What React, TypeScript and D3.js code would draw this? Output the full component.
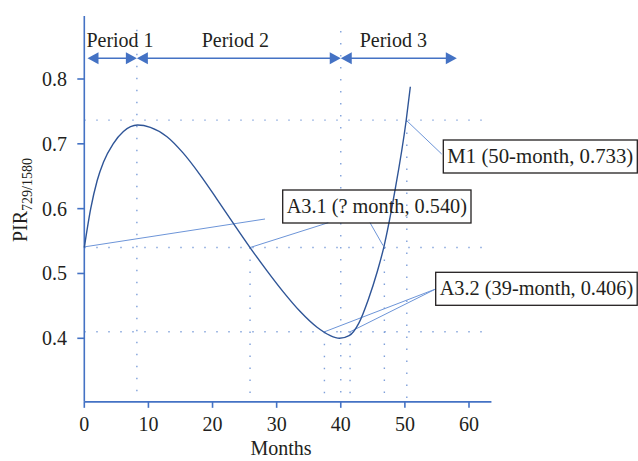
import React, { useEffect, useRef } from "react"
import * as d3 from "d3"

// curve: month, PIR value
const months = [0, 1, 2, 3, 4.5, 6.1, 8.3, 10.3, 12.9, 15.4, 18, 20.6, 23.2, 25.85, 28.5, 31, 33.6, 36.3, 38.3, 39.8, 41.3, 42.8, 44.3, 45.7, 46.7, 48.4, 50.2, 50.85]
const pir = [0.54, 0.6, 0.643, 0.672, 0.7, 0.719, 0.729, 0.7255, 0.711, 0.686, 0.653, 0.616, 0.578, 0.54, 0.504, 0.472, 0.442, 0.417, 0.4045, 0.4, 0.404, 0.423, 0.46, 0.503, 0.54, 0.625, 0.736, 0.788]

const xTicks = [0, 10, 20, 30, 40, 50, 60]
const yTicks = [0.4, 0.5, 0.6, 0.7, 0.8]

const periodNames = ["Period 1", "Period 2", "Period 3"]
const periodStart = [0.5, 8.2, 40]
const periodEnd = [8.2, 40, 58.1]

// dotted guide lines
const hGuides = [0.7365, 0.54, 0.41]
const vGuideAt = [8.2, 40, 50.3, 46.8, 25.85, 37.45, 41.45]
const vGuideTop = [0.876, 0.874, 0.736, 0.54, 0.54, 0.41, 0.41]

const noteText = ["M1 (50-month, 0.733)", "A3.1 (? month, 0.540)", "A3.2 (39-month, 0.406)"]
// leader targets on the chart, per note
const noteTargets = [
  [[50.2, 0.7365]],
  [[0, 0.541], [25.85, 0.54], [46.6, 0.543]],
  [[37.45, 0.41], [41.45, 0.41]],
]

const W = 638
const H = 461
const FONT = "'Liberation Serif', 'DejaVu Serif', serif"
const AXIS = "#4472c4"

export default function App() {
  const ref = useRef<SVGSVGElement>(null)

  useEffect(() => {
    const svg = d3.select(ref.current)
    svg.selectAll("*").remove()

    const x = d3.scaleLinear().domain([0, 60]).range([84.3, 469])
    const y = d3.scaleLinear().domain([0.4, 0.8]).range([338.3, 79])
    const yBottom = 0.302
    const xRight = 63.5

    // guides
    const g = svg.append("g").attr("stroke", "#7fa0da").attr("stroke-width", 1.4)
      .attr("stroke-dasharray", "1.4,10.6")
    hGuides.forEach(v => {
      g.append("line").attr("x1", x(0)).attr("x2", x(62)).attr("y1", y(v)).attr("y2", y(v))
    })
    vGuideAt.forEach((m, i) => {
      g.append("line").attr("x1", x(m)).attr("x2", x(m)).attr("y1", y(vGuideTop[i])).attr("y2", y(yBottom))
    })

    // axes
    svg.append("line").attr("x1", x(0)).attr("x2", x(0)).attr("y1", y(0.897)).attr("y2", y(yBottom))
      .attr("stroke", AXIS).attr("stroke-width", 1.6)
    svg.append("line").attr("x1", x(0)).attr("x2", x(xRight)).attr("y1", y(yBottom)).attr("y2", y(yBottom))
      .attr("stroke", AXIS).attr("stroke-width", 1.6)

    svg.append("g").selectAll("line").data(xTicks).enter().append("line")
      .attr("x1", d => x(d)).attr("x2", d => x(d))
      .attr("y1", y(yBottom)).attr("y2", y(yBottom) + 6)
      .attr("stroke", AXIS).attr("stroke-width", 1.6)
    svg.append("g").selectAll("text").data(xTicks).enter().append("text")
      .attr("x", d => x(d)).attr("y", 431)
      .attr("text-anchor", "middle").attr("font-family", FONT).attr("font-size", 20).attr("fill", "#231f20")
      .text(d => d)

    svg.append("g").selectAll("line").data(yTicks).enter().append("line")
      .attr("x1", x(0) - 7).attr("x2", x(0))
      .attr("y1", d => y(d)).attr("y2", d => y(d))
      .attr("stroke", AXIS).attr("stroke-width", 1.6)
    svg.append("g").selectAll("text").data(yTicks).enter().append("text")
      .attr("x", 67).attr("y", d => y(d) + 7)
      .attr("text-anchor", "end").attr("font-family", FONT).attr("font-size", 20).attr("fill", "#231f20")
      .text(d => d.toFixed(1))

    svg.append("text").attr("x", 281).attr("y", 455).attr("text-anchor", "middle")
      .attr("font-family", FONT).attr("font-size", 20).attr("fill", "#231f20").text("Months")

    const yl = svg.append("text").attr("transform", "translate(27,200) rotate(-90)")
      .attr("text-anchor", "middle").attr("font-family", FONT).attr("font-size", 20).attr("fill", "#231f20")
    yl.append("tspan").text("PIR")
    yl.append("tspan").attr("font-size", 14).attr("dy", 5).text("729/1580")

    // leaders, drawn under the curve
    const boxes = [
      { x: 443.3, y: 140, w: 194 },
      { x: 282.7, y: 190, w: 188.3 },
      { x: 435.7, y: 272.3, w: 201.5 },
    ]
    const anchors = [
      [[441.7, 154]],
      [[265, 219], [328.3, 222.7], [370, 222.7]],
      [[435.7, 289], [435.7, 289]],
    ]
    noteTargets.forEach((ts, i) => {
      ts.forEach((t, j) => {
        svg.append("line")
          .attr("x1", x(t[0])).attr("y1", y(t[1]))
          .attr("x2", anchors[i][j][0]).attr("y2", anchors[i][j][1])
          .attr("stroke", "#6d95d8").attr("stroke-width", 1)
      })
    })

    // curve
    const line = d3.line<number>()
      .x((d, i) => x(months[i]))
      .y(d => y(d))
      .curve(d3.curveMonotoneX)
    svg.append("path").attr("d", line(pir)).attr("fill", "none")
      .attr("stroke", "#2f5597").attr("stroke-width", 1.4)

    // note boxes
    boxes.forEach((b, i) => {
      svg.append("rect").attr("x", b.x).attr("y", b.y).attr("width", b.w).attr("height", 33)
        .attr("fill", "none").attr("stroke", "#231f20").attr("stroke-width", 1.3)
      svg.append("text").attr("x", b.x + 4).attr("y", b.y + 23)
        .attr("font-family", FONT).attr("font-size", 20).attr("fill", "#231f20")
        .attr("textLength", b.w - 8).attr("lengthAdjust", "spacingAndGlyphs")
        .text(noteText[i])
    })

    // period arrows
    const ay = 58.3
    const head = (tip: number, dir: number) => {
      const p = d3.path()
      p.moveTo(tip, ay)
      p.lineTo(tip - dir * 11, ay - 6)
      p.lineTo(tip - dir * 11, ay + 6)
      p.closePath()
      svg.append("path").attr("d", p.toString()).attr("fill", AXIS)
    }
    periodNames.forEach((name, i) => {
      const x0 = x(periodStart[i])
      const x1 = x(periodEnd[i])
      svg.append("line").attr("x1", x0 + 4).attr("x2", x1 - 4).attr("y1", ay).attr("y2", ay)
        .attr("stroke", AXIS).attr("stroke-width", 1.6)
      head(x0, -1)
      head(x1, 1)
    })
    const labelX = [120, 235.3, 393.3]
    svg.append("g").selectAll("text").data(periodNames).enter().append("text")
      .attr("x", (d, i) => labelX[i]).attr("y", 47)
      .attr("text-anchor", "middle").attr("font-family", FONT).attr("font-size", 20).attr("fill", "#231f20")
      .text(d => d)
  }, [])

  return (
    <svg ref={ref} width={W} height={H}
      style={{ position: "absolute", left: 0, top: 0, background: "#fff" }} />
  )
}
